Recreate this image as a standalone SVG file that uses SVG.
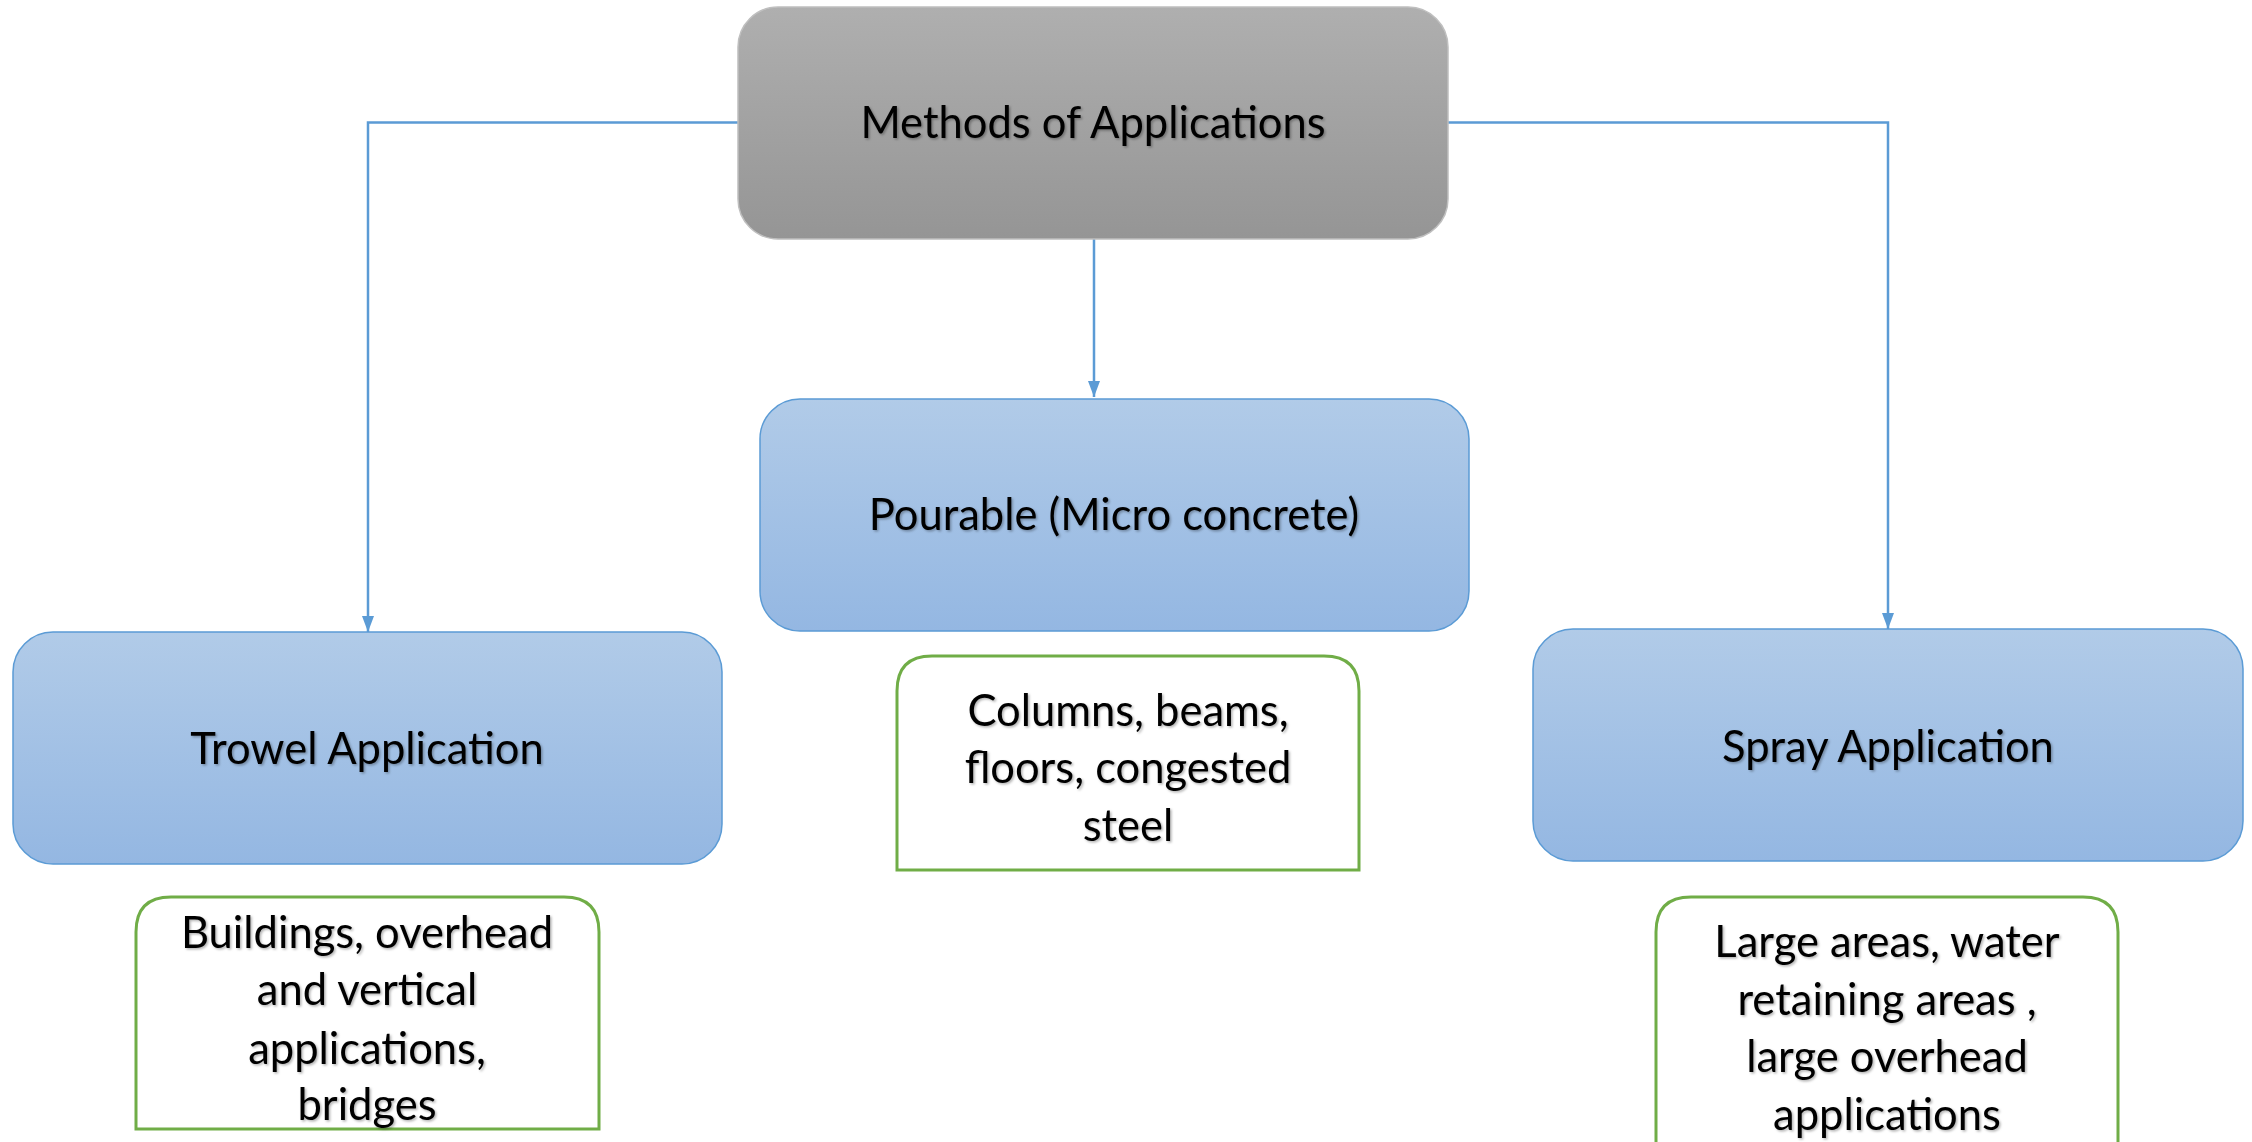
<svg xmlns="http://www.w3.org/2000/svg" width="2252" height="1142" viewBox="0 0 2252 1142">
<style>
.t{font-family:Lato,"Open Sans","Liberation Sans",sans-serif;font-size:43.5px;fill:#000;text-anchor:middle}
.blue{fill:url(#gb);stroke:#5B9BD5;stroke-width:1.5}
.grey{fill:url(#gg);stroke:#BFBFBF;stroke-width:1.5}
.green{fill:#fff;stroke:#70AD47;stroke-width:3}
.conn{fill:none;stroke:#5B9BD5;stroke-width:2.5}
</style>
<defs>
<linearGradient id="gb" x1="0" y1="0" x2="0" y2="1"><stop offset="0" stop-color="#B1CBE8"/><stop offset="1" stop-color="#94B7E2"/></linearGradient>
<linearGradient id="gg" x1="0" y1="0" x2="0" y2="1"><stop offset="0" stop-color="#AFAFAF"/><stop offset="1" stop-color="#959595"/></linearGradient>
<filter id="sh" x="-5%" y="-20%" width="110%" height="140%"><feDropShadow dx="1.5" dy="1.5" stdDeviation="1" flood-color="#000" flood-opacity="0.3"/></filter>
<marker id="arr" markerWidth="16" markerHeight="12" refX="16" refY="6" orient="auto" markerUnits="userSpaceOnUse"><path d="M0,0 L16,6 L0,12 Z" fill="#5B9BD5"/></marker>
</defs>
<g id="connectors">
<path class="conn" d="M738,122.5 H368 V632" marker-end="url(#arr)"/>
<path class="conn" d="M1448,122.5 H1888 V629" marker-end="url(#arr)"/>
<path class="conn" d="M1094,239 V397" marker-end="url(#arr)"/>
</g>
<g id="node-methods">
<rect class="grey" x="738" y="7" width="710" height="232" rx="40" ry="40"/>
<text class="t" x="1093" y="138" filter="url(#sh)">Methods of Applications</text>
</g>
<g id="node-pourable">
<rect class="blue" x="760" y="399" width="709" height="232" rx="40" ry="40"/>
<text class="t" x="1114" y="530" filter="url(#sh)">Pourable (Micro concrete)</text>
</g>
<g id="node-trowel">
<rect class="blue" x="13" y="632" width="709" height="232" rx="40" ry="40"/>
<text class="t" x="367" y="764" filter="url(#sh)">Trowel Application</text>
</g>
<g id="node-spray">
<rect class="blue" x="1533" y="629" width="710" height="232" rx="40" ry="40"/>
<text class="t" x="1888" y="762" filter="url(#sh)">Spray Application</text>
</g>
<g id="note-pourable">
<path class="green" d="M897,870 V691 Q897,656 932,656 H1324 Q1359,656 1359,691 V870 Z"/>
<text class="t" x="1128" y="726" filter="url(#sh)">Columns, beams,</text>
<text class="t" x="1128" y="783" filter="url(#sh)">floors, congested</text>
<text class="t" x="1128" y="841" filter="url(#sh)">steel</text>
</g>
<g id="note-trowel">
<path class="green" d="M136,1129 V932 Q136,897 171,897 H564 Q599,897 599,932 V1129 Z"/>
<text class="t" x="367" y="948" filter="url(#sh)">Buildings, overhead</text>
<text class="t" x="367" y="1005" filter="url(#sh)">and vertical</text>
<text class="t" x="367" y="1064" filter="url(#sh)">applications,</text>
<text class="t" x="367" y="1120" filter="url(#sh)">bridges</text>
</g>
<g id="note-spray">
<path class="green" d="M1656,1160 V932 Q1656,897 1691,897 H2083 Q2118,897 2118,932 V1160"/>
<text class="t" x="1887" y="957" filter="url(#sh)">Large areas, water</text>
<text class="t" x="1887" y="1015" filter="url(#sh)">retaining areas ,</text>
<text class="t" x="1887" y="1072" filter="url(#sh)">large overhead</text>
<text class="t" x="1887" y="1130" filter="url(#sh)">applications</text>
</g>
</svg>
